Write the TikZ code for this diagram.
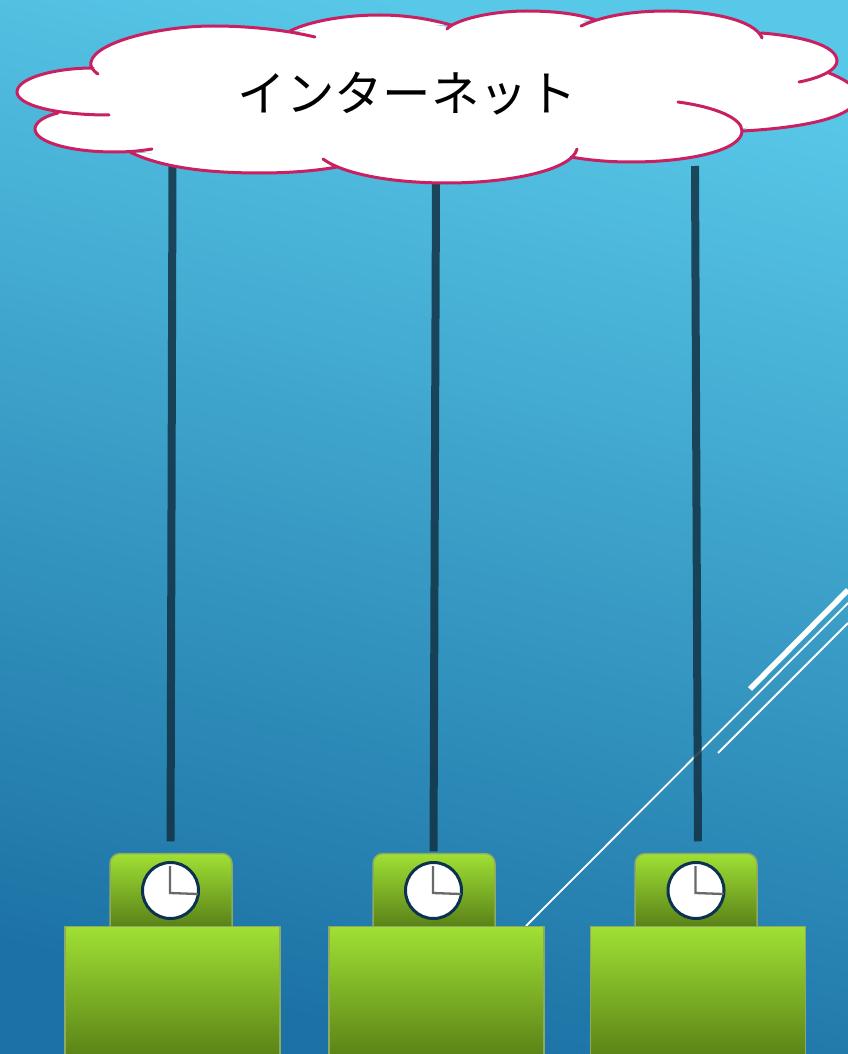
\documentclass[tikz,border=0pt]{standalone}
\usepackage{fontspec}
\newfontfamily\jpfont{Noto Sans CJK JP}
\usepackage{xcolor}
\definecolor{skyTop}{RGB}{88, 200, 232}
\definecolor{skyBottom}{RGB}{28, 114, 165}
\definecolor{cloudLine}{RGB}{200, 32, 96}
\definecolor{linkDark}{RGB}{18, 50, 68}
\definecolor{boxTop}{RGB}{160, 224, 52}
\definecolor{boxBottom}{RGB}{88, 128, 22}
\definecolor{boxEdge}{RGB}{140, 170, 100}
\definecolor{clockRim}{RGB}{12, 50, 80}
\definecolor{clockHand}{RGB}{105, 105, 105}
\tikzset{
  cloudpart/.style={draw=cloudLine, fill=white, line width=3pt, line cap=round},
  link/.style={draw=linkDark, line width=8pt, opacity=0.85},
  streak/.style={draw=white, line width=1.8pt},
  serverbox/.style={draw=boxEdge, line width=1.5pt, top color=boxTop, bottom color=boxBottom,
    minimum width=215pt, minimum height=134pt, inner sep=0pt},
  clockbox/.style={draw=boxEdge, line width=1.5pt, top color=boxTop, bottom color=boxBottom!90!black,
    rounded corners=10pt, minimum width=122pt, minimum height=84pt, inner sep=0pt},
  clockface/.style={circle, draw=clockRim, fill=white, line width=3pt, minimum size=56pt, inner sep=0pt},
  clockhands/.style={draw=clockHand, line width=2.3pt},
}
\begin{document}
\begin{tikzpicture}[x=1pt, y=-1pt]
  \useasboundingbox (0,0) rectangle (848,1054);
  \clip (0,0) rectangle (848,1054);
  % background
  \shade[top color=skyTop, bottom color=skyBottom, shading angle=-14] (0,0) rectangle (848,1054);

  % white streaks
  \coordinate (streakAs) at (750,689);
  \coordinate (streakAe) at (848,590);
  \coordinate (streakBs) at (526,926);
  \coordinate (streakBe) at (848,603);
  \coordinate (streakCs) at (718,753);
  \coordinate (streakCe) at (848,623);
  \draw[streak, line width=5.5pt] (streakAs) -- (streakAe);
  \draw[streak] (streakBs) -- (streakBe);
  \draw[streak] (streakCs) -- (streakCe);

  % clock boxes, their lower edge hidden by the server boxes
  \node[clockbox] (clockboxA) at (171,895.5) {};
  \node[clockbox] (clockboxB) at (434,895.5) {};
  \node[clockbox] (clockboxC) at (696,895.5) {};

  % server boxes
  \node[serverbox] (serverA) at (172.5,993.5) {};
  \node[serverbox] (serverB) at (436.5,993.5) {};
  \node[serverbox] (serverC) at (698,993.5) {};

  % clocks
  \node[clockface] (clockA) at (170.5,890.5) {};
  \node[clockface] (clockB) at (433.5,890.5) {};
  \node[clockface] (clockC) at (696,890.5) {};
  \draw[clockhands] (170,866) -- (170,893) -- (198,894);
  \draw[clockhands] (433,866) -- (433,893) -- (461,894);
  \draw[clockhands] (695.5,866) -- (695.5,893) -- (723.5,894);

  % links to the cloud
  \coordinate (cloudA) at (172.5,166);
  \coordinate (cloudB) at (436,183);
  \coordinate (cloudC) at (695,166);
  \draw[link, shorten >=11.5pt] (cloudA) -- ([xshift=-0.5pt]clockboxA.north);
  \draw[link, shorten >=1.5pt] (cloudB) -- ([xshift=-0.5pt]clockboxB.north);
  \draw[link, shorten >=11.5pt] (cloudC) -- ([xshift=2pt]clockboxC.north);

  % cloud
  \fill[white] (98,74) -- (213,28) -- (290,33) -- (380,18) -- (449,27) -- (527,14) -- (589,22)
    -- (667,14) -- (761,36) -- (835,61) -- (825,75) -- (855,95) -- (742,129) -- (631,160)
    -- (574,155) -- (447,181) -- (332,167) -- (260,172) -- (130,150) -- (100,150) -- (58,113)
    -- (20,92) -- cycle;
  \draw[cloudpart]
    (98,74) .. controls (92,70) and (90,66) .. (91,62) .. controls (95,42) and (160,26) .. (213,26)
      .. controls (250,26) and (285,30) .. (315,37)
    (290,31) .. controls (310,21) and (345,15) .. (380,15) .. controls (405,15) and (430,19) .. (451,25)
    (447,29) .. controls (455,20) and (490,11) .. (527,11) .. controls (555,11) and (578,14) .. (596,20)
    (581,26) .. controls (605,15) and (635,11) .. (667,11) .. controls (710,11) and (755,20) .. (762,38)
    (761,33) .. controls (800,36) and (837,45) .. (837,61) .. controls (837,70) and (820,78) .. (799,82)
    (829,73) .. controls (842,78) and (858,87) .. (858,95) .. controls (858,118) and (800,128) .. (742,131)
    (678,102) .. controls (715,107) and (742,118) .. (742,131) .. controls (742,150) and (690,162) .. (631,162)
      .. controls (608,162) and (588,160) .. (571,157)
    (577,149) .. controls (572,170) and (510,183) .. (447,183) .. controls (395,183) and (345,175) .. (323,159)
    (337,167) .. controls (315,171) and (288,173) .. (260,173) .. controls (205,173) and (160,167) .. (130,152)
    (152,149) .. controls (140,151) and (128,152) .. (115,152) .. controls (70,152) and (35,142) .. (35,129)
      .. controls (35,122) and (45,116) .. (58,113)
    (109,115) .. controls (55,115) and (17,105) .. (17,92) .. controls (17,78) and (55,68) .. (93,68);
  \node[font=\jpfont\fontsize{48.4}{48.4}\selectfont, text=black, inner sep=0pt] (cloudlabel) at (407,93.5) {インターネット};
\end{tikzpicture}
\end{document}
